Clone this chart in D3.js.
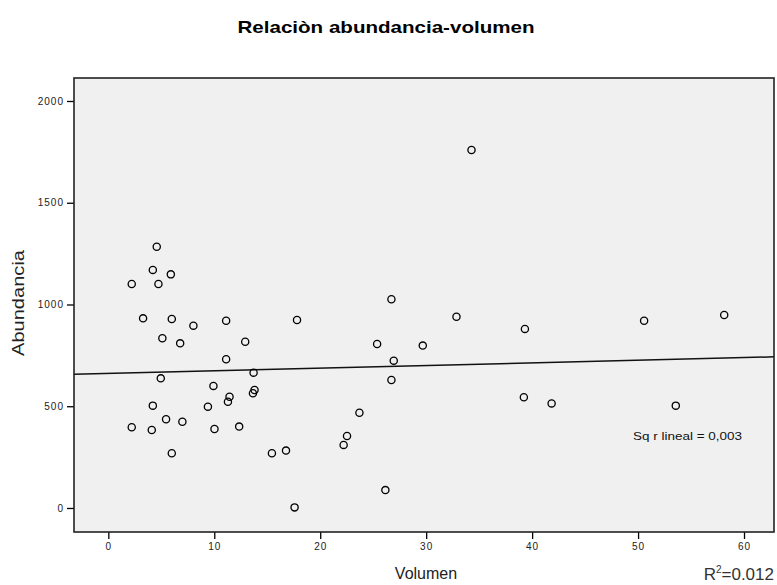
<!DOCTYPE html>
<html>
<head lang="es">
<meta charset="UTF-8">
<title>Relación abundancia-volumen</title>
<script src="https://cdn.jsdelivr.net/npm/d3@7/dist/d3.min.js"></script>
<style>
body { margin: 0; background: #fff; }
.tick text {
    font-family: "Liberation Sans", Arial, sans-serif;
    font-size: 10px;
    letter-spacing: 1px;
    fill: #222;
}
.tick line { stroke: #000; stroke-width: 1.3px; }
</style>
</head>
<body>
<div id="vis"></div>
<script>

// data
var volumen = [4.57, 4.20, 5.90, 2.21, 4.73, 3.28, 5.99, 8.03, 11.12, 17.81,
               5.10, 6.78, 12.92, 11.12, 4.95, 13.71, 9.92, 13.80, 13.65, 11.44,
               11.29, 4.20, 9.40, 5.45, 6.99, 2.21, 4.10, 10.02, 12.35, 5.99,
               15.44, 16.77, 17.58, 34.28, 26.72, 32.86, 25.37, 29.68, 26.94, 26.72,
               23.70, 22.53, 22.21, 26.15, 39.32, 50.57, 58.13, 39.22, 41.84, 53.56];
var abundancia = [1284, 1170, 1148, 1101, 1101, 932, 929, 896, 920, 924,
                  834, 809, 817, 731, 637, 665, 600, 580, 564, 547,
                  522, 503, 498, 436, 424, 397, 383, 388, 400, 269,
                  269, 282, 3, 1759, 1026, 940, 806, 798, 724, 629,
                  468, 354, 310, 88, 880, 920, 948, 544, 514, 503];

// linear fit shown in the chart
var intercepto = 661;
var pendiente = 1.30;

var xTicks = [0, 10, 20, 30, 40, 50, 60];
var yTicks = [0, 500, 1000, 1500, 2000];

var W = 777, H = 585;
var margin = {top: 78, right: 3, bottom: 53, left: 74};

var svg = d3.select("#vis").append("svg")
  .attr("width", W)
  .attr("height", H);

var x = d3.scaleLinear().domain([-3.24, 62.83]).range([margin.left, W - margin.right]);
var y = d3.scaleLinear().domain([-118, 2113]).range([H - margin.bottom, margin.top]);

// title
svg.append("text")
  .attr("x", 386)
  .attr("y", 33)
  .attr("text-anchor", "middle")
  .attr("font-family", "Liberation Sans, Arial, sans-serif")
  .attr("font-weight", "bold")
  .attr("font-size", 17)
  .attr("textLength", 297)
  .attr("lengthAdjust", "spacingAndGlyphs")
  .text("Relaciòn abundancia-volumen");

// plot area
svg.append("rect")
  .attr("x", margin.left)
  .attr("y", margin.top)
  .attr("width", W - margin.right - margin.left)
  .attr("height", H - margin.bottom - margin.top)
  .attr("fill", "#f0f0f0");

// axes
var xAxis = svg.append("g")
  .attr("transform", "translate(0," + (H - margin.bottom) + ")")
  .call(d3.axisBottom(x).tickValues(xTicks).tickFormat(d3.format("d"))
    .tickSize(7).tickSizeOuter(0).tickPadding(4));
xAxis.select(".domain").remove();

var yAxis = svg.append("g")
  .attr("transform", "translate(" + margin.left + ",0)")
  .call(d3.axisLeft(y).tickValues(yTicks).tickFormat(d3.format("d"))
    .tickSize(7).tickSizeOuter(0).tickPadding(3));
yAxis.select(".domain").remove();

// regression line
var x0 = x.domain()[0], x1 = x.domain()[1];
svg.append("line")
  .attr("x1", x(x0))
  .attr("x2", x(x1))
  .attr("y1", y(intercepto + pendiente * x0))
  .attr("y2", y(intercepto + pendiente * x1))
  .attr("stroke", "#111")
  .attr("stroke-width", 1.5);

// points
svg.selectAll(".pt")
  .data(volumen)
  .enter()
  .append("circle")
  .attr("class", "pt")
  .attr("cx", function(d) { return x(d); })
  .attr("cy", function(d, i) { return y(abundancia[i]); })
  .attr("r", 3.6)
  .attr("fill", "none")
  .attr("stroke", "#000")
  .attr("stroke-width", 1.3);

// frame
svg.append("rect")
  .attr("x", margin.left)
  .attr("y", margin.top)
  .attr("width", W - margin.right - margin.left)
  .attr("height", H - margin.bottom - margin.top)
  .attr("fill", "none")
  .attr("stroke", "#222")
  .attr("stroke-width", 1.6);

// fit annotation
svg.append("text")
  .attr("x", 633)
  .attr("y", 440)
  .attr("font-family", "Liberation Sans, Arial, sans-serif")
  .attr("font-size", 11)
  .attr("textLength", 109)
  .attr("lengthAdjust", "spacingAndGlyphs")
  .attr("fill", "#111")
  .text("Sq r lineal = 0,003");

// axis titles
svg.append("text")
  .attr("x", 426)
  .attr("y", 579)
  .attr("text-anchor", "middle")
  .attr("font-family", "Liberation Sans, Arial, sans-serif")
  .attr("font-size", 16)
  .attr("fill", "#222")
  .text("Volumen");

svg.append("text")
  .attr("transform", "translate(24,303) rotate(-90)")
  .attr("text-anchor", "middle")
  .attr("font-family", "Liberation Sans, Arial, sans-serif")
  .attr("font-size", 16)
  .attr("textLength", 106)
  .attr("lengthAdjust", "spacingAndGlyphs")
  .attr("fill", "#222")
  .text("Abundancia");

// R squared
var r2 = svg.append("text")
  .attr("x", 774)
  .attr("y", 580)
  .attr("text-anchor", "end")
  .attr("font-family", "Liberation Sans, Arial, sans-serif")
  .attr("font-size", 17)
  .attr("fill", "#333");
r2.append("tspan").text("R");
r2.append("tspan").attr("font-size", 10).attr("dy", -7).text("2");
r2.append("tspan").attr("dy", 7).text("=0.012");

</script>
</body>
</html>
